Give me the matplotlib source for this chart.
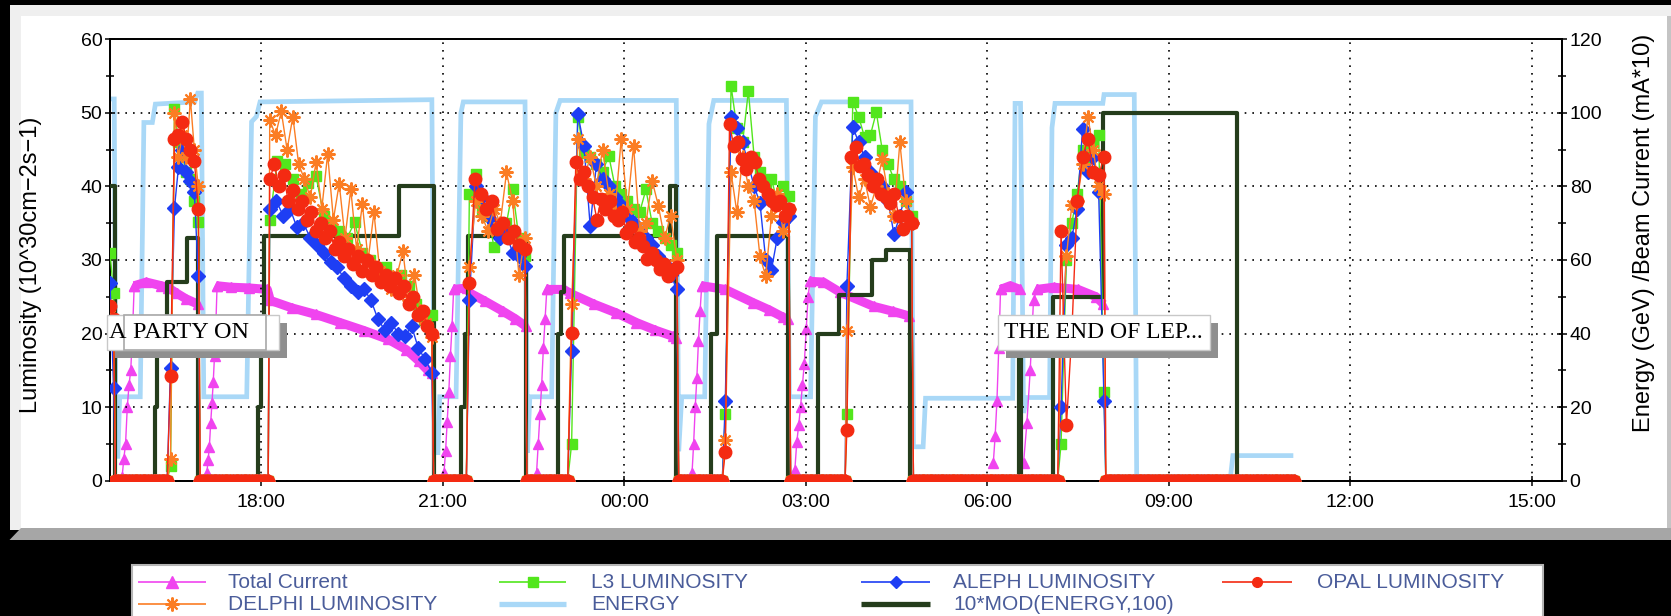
import numpy as np
import matplotlib
matplotlib.use("Agg")
import matplotlib.pyplot as plt
from matplotlib.lines import Line2D
from matplotlib.patches import Rectangle, Polygon

W, H, DPI = 1671, 616, 100
plt.rcParams['font.family'] = ['Liberation Sans', 'DejaVu Sans']

# ---------------- time axis (hours counted from midnight of day one) ----------------
x_min, x_max = 15.5, 39.5
tick_hours = [18, 21, 24, 27, 30, 33, 36, 39]
tick_labels = ["18:00", "21:00", "00:00", "03:00", "06:00", "09:00", "12:00", "15:00"]

# ---------------- beam energy, GeV (right axis) ----------------
energy_t = [15.50, 15.57, 15.60, 15.63, 15.66, 16.00, 16.06, 16.20, 16.25, 16.90,
            16.95, 17.01, 17.05, 17.76, 17.84, 17.92, 17.98, 20.82, 20.86, 20.92,
            20.95, 21.22, 21.30, 21.34, 22.36, 22.40, 22.44, 22.80, 22.87, 22.94,
            24.86, 24.90, 24.95, 25.33, 25.40, 25.48, 26.68, 26.73, 27.08, 27.16,
            27.26, 28.74, 28.78, 28.94, 28.98, 30.42, 30.46, 30.55, 30.60, 30.65,
            31.03, 31.07, 31.12, 31.91, 31.93, 32.43, 32.47, 34.02, 34.06, 35.02]
energy_gev = [103.8, 103.8, 6.6, 6.6, 22.8, 22.8, 97.4, 97.4, 102.4, 103.0,
              105.4, 105.4, 22.8, 22.8, 97.6, 99.0, 103.0, 103.6, 7.6, 7.6,
              22.8, 22.8, 100.0, 103.0, 103.0, 7.6, 22.8, 22.8, 100.0, 103.4,
              103.4, 8.0, 22.8, 22.8, 97.0, 103.4, 103.4, 22.8, 22.8, 99.0,
              103.0, 103.0, 9.2, 9.2, 22.4, 22.4, 102.6, 102.6, 18.4, 22.6,
              22.6, 96.0, 102.6, 102.6, 105.0, 105.0, 1.0, 1.0, 6.8, 6.8]

# ---------------- 10*MOD(ENERGY,100), left axis, step changes ----------------
mod_t = [15.50, 15.59, 16.24, 16.27, 16.45, 16.78, 16.96, 17.95, 17.99, 18.04,
         20.28, 20.85, 21.30, 21.36, 21.42, 22.37, 22.90, 22.96, 23.01, 24.75,
         24.86, 25.44, 25.54, 26.70, 27.20, 27.55, 28.09, 28.32, 28.72, 30.52,
         30.56, 31.09, 31.91, 34.13]
mod_val = [40.0, 0.0, 10.0, 22.0, 27.0, 33.0, 0.0, 10.0, 22.0, 33.3,
           40.0, 0.0, 10.0, 20.0, 33.3, 0.0, 20.0, 25.6, 33.3, 40.0,
           0.0, 20.0, 33.3, 0.0, 20.0, 25.3, 30.0, 31.3, 0.0, 20.0,
           0.0, 25.0, 50.0, 0.0]

# ---------------- total beam current, mA*10 (right axis) ----------------
current_ramp_spans = [(15.70, 15.90), (17.10, 17.27), (21.02, 21.18), (22.55, 22.72),
                      (25.12, 25.28), (26.82, 27.07), (30.10, 30.22), (30.60, 30.82)]
current_ramps = [
    [1, 6, 10, 20, 26, 30, 40, 53],
    [2, 5.6, 9.2, 15.6, 21, 26.8, 34, 42, 53],
    [2, 8, 16, 24, 34, 42, 52],
    [2, 10, 18, 26, 36, 44, 52],
    [2, 10, 20, 28, 38, 46, 53],
    [3, 10.4, 15, 20, 26, 31.8, 41.2, 50, 54.2],
    [4.8, 12, 21.6, 36, 52],
    [4.8, 15.6, 30, 49.2, 52],
]
current_coast_t = [
    [15.90, 16.10, 16.35, 16.46, 16.60, 16.75, 16.95],
    [17.27, 17.50, 17.80, 18.10, 18.15, 18.50, 18.90, 19.30, 19.70, 20.10, 20.40, 20.60, 20.75, 20.82],
    [21.18, 21.40, 21.45, 21.70, 22.00, 22.20, 22.37],
    [22.72, 23.00, 23.10, 23.50, 23.87, 24.20, 24.50, 24.81, 24.86],
    [25.28, 25.67, 26.13, 26.40, 26.63, 26.70],
    [27.07, 27.29, 27.57, 28.12, 28.45, 28.70],
    [30.22, 30.38, 30.54],
    [30.82, 31.10, 31.50, 31.80, 31.92],
]
current_coast = [
    [53, 54, 53, 52.5, 51, 49.5, 48],
    [53, 52.6, 52.4, 52, 49, 47, 45.2, 43, 40.8, 38.4, 35.6, 32.6, 30, 29.4],
    [52, 52.4, 51, 48.8, 46, 44, 42],
    [52, 52, 51, 48, 45.6, 43, 41, 39.2, 38.8],
    [53, 52, 48.4, 46.4, 44.4, 44],
    [54.2, 54, 51.2, 47.4, 46, 44.8],
    [52, 53, 52],
    [52, 52.6, 52, 50, 48],
]

# ---------------- luminosities, 10^30 cm-2 s-1 (left axis) ----------------
fill_spans = [(15.50, 15.56), (16.50, 16.96), (18.14, 20.82), (21.44, 22.36),
              (23.13, 24.87), (25.67, 26.72), (27.68, 28.75), (31.22, 31.93)]
zero_spans = [(15.59, 16.48), (16.99, 18.12), (20.85, 21.42), (22.39, 23.11),
              (24.90, 25.65), (26.75, 27.66), (28.78, 31.20), (31.96, 35.08)]
zero_step = 0.045

l3_lumi = [
    [31.0, 25.5],
    [2.0, 50.5, 46.0, 44.0, 42.0, 41.0, 38.0, 35.1],
    [35.5, 43.5, 43.0, 41.0, 39.0, 40.5, 41.4, 36.0, 35.0, 34.0, 33.0, 35.1, 31.0,
     30.0, 28.4, 29.0, 27.5, 28.0, 26.5, 24.0, 21.9, 22.5],
    [39.0, 41.7, 37.0, 36.0, 31.7, 34.0, 35.0, 39.6, 33.0, 30.5],
    [5.0, 49.5, 44.5, 44.0, 43.0, 42.0, 44.2, 40.0, 39.0, 38.0, 37.0, 36.5, 39.6,
     35.0, 34.0, 33.0, 32.1, 31.0],
    [9.0, 53.7, 48.0, 46.0, 53.0, 44.0, 42.0, 40.0, 41.0, 38.0, 40.0, 38.7],
    [9.0, 51.5, 49.5, 46.7, 47.0, 50.1, 45.0, 43.0, 41.0, 40.0, 38.0, 36.0],
    [5.0, 30.0, 35.0, 39.0, 45.0, 44.0, 46.0, 47.0, 12.0],
]
aleph_lumi = [
    [26.9, 12.6],
    [15.3, 37.1, 42.6, 45.0, 42.0, 40.8, 39.2, 27.8],
    [36.9, 38.0, 36.0, 37.0, 34.5, 35.0, 33.0, 32.0, 31.0, 29.7, 29.0, 27.5, 26.5,
     25.6, 26.0, 24.5, 22.0, 20.5, 21.5, 20.0, 19.6, 21.0, 18.0, 16.5, 14.7],
    [24.6, 40.1, 38.5, 36.0, 35.0, 33.0, 33.5, 31.0, 30.5, 29.2],
    [17.6, 49.9, 45.5, 34.6, 43.0, 41.0, 40.0, 38.5, 37.5, 36.0, 35.0, 34.0, 33.0,
     32.0, 30.5, 29.5, 28.0, 26.0],
    [10.8, 49.5, 48.0, 46.0, 43.0, 40.0, 37.8, 30.0, 28.7, 33.0, 35.1, 36.0],
    [26.5, 48.1, 46.0, 44.0, 42.0, 41.0, 40.0, 38.0, 33.5, 36.0, 39.2, 35.0],
    [10.0, 32.0, 33.0, 37.0, 47.8, 42.0, 44.0, 39.3, 10.8],
]
opal_lumi = [
    [23.7, 22.0],
    [14.2, 46.4, 47.0, 48.7, 46.5, 45.0, 43.5, 36.9],
    [41.0, 43.0, 40.0, 41.5, 38.0, 39.5, 37.0, 38.0, 35.5, 36.5, 34.0, 35.0, 33.0,
     34.0, 31.5, 32.5, 30.5, 31.5, 29.5, 30.5, 28.5, 30.0, 28.0, 29.0, 27.0, 28.0,
     26.5, 27.5, 25.5, 26.5, 24.0, 25.0, 22.5, 23.0, 21.0, 20.0],
    [26.9, 41.0, 39.0, 36.9, 38.0, 34.2, 35.0, 33.0, 34.0, 32.0, 31.5],
    [20.1, 43.3, 41.0, 42.0, 40.0, 38.5, 35.5, 38.3, 37.0, 38.0, 36.0, 35.5, 36.5,
     33.7, 34.5, 32.5, 33.0, 31.9, 30.1, 31.0, 30.0, 28.8, 29.5, 27.8, 28.7, 29.0],
    [3.9, 48.5, 45.5, 46.0, 43.7, 42.4, 44.0, 43.3, 41.0, 40.0, 39.0, 38.0, 37.5,
     38.0, 36.0, 37.0],
    [6.9, 44.0, 45.4, 42.8, 43.0, 41.5, 40.1, 41.0, 39.0, 38.5, 37.8, 39.0, 36.0,
     34.2, 36.0, 35.0],
    [34.0, 7.5, 20.0, 38.0, 44.0, 46.5, 42.0, 41.5, 44.0],
]
delphi_lumi = [
    [22.5, 21.0],
    [3.0, 50.0, 44.0, 47.0, 44.0, 51.9, 45.0, 40.0],
    [49.0, 47.0, 50.2, 45.0, 49.5, 43.0, 41.0, 38.5, 43.3, 37.0, 44.4, 35.5, 40.4,
     33.0, 39.6, 31.5, 37.6, 30.0, 36.5, 28.5, 27.0, 26.0, 28.0, 31.2, 24.5, 28.0,
     23.0, 21.5, 19.5],
    [29.0, 38.0, 36.0, 34.0, 37.0, 35.0, 41.9, 38.0, 28.0, 33.0],
    [24.0, 46.4, 41.0, 44.0, 40.0, 45.0, 39.0, 36.5, 46.4, 37.0, 45.5, 34.0, 35.0,
     40.8, 37.4, 33.0, 36.0, 30.0],
    [5.5, 41.9, 36.5, 44.0, 40.0, 38.0, 30.5, 27.8, 36.0, 39.0, 34.0, 37.0],
    [20.3, 42.7, 38.5, 41.0, 37.2, 40.0, 43.7, 39.0, 36.0, 46.0, 38.0, 35.0],
    [18.0, 30.5, 37.5, 38.0, 43.0, 49.5, 45.0, 40.0, 39.0],
]

# ---------------- colours ----------------
C_CURRENT = '#f044ef'
C_DELPHI = '#fb7d24'
C_L3 = '#52e61c'
C_ENERGY = '#a9d8f7'
C_ALEPH = '#1e3ef4'
C_MOD = '#253d1c'
C_OPAL = '#f42a12'
C_LEGTEXT = '#4a5c9a'

ASTERISK = (8, 2, 0)


def build_series(fill_vals):
    """Join the per-fill samples with the zero readings between fills."""
    ts, vs = [], []
    for (a, b), vals in zip(fill_spans, fill_vals):
        ts.append(np.linspace(a, b, len(vals)))
        vs.append(np.asarray(vals, float))
    for a, b in zero_spans:
        zt = np.arange(a, b, zero_step)
        ts.append(zt)
        vs.append(np.zeros_like(zt))
    t = np.concatenate(ts)
    v = np.concatenate(vs)
    order = np.argsort(t, kind='stable')
    return t[order], v[order]


fig = plt.figure(figsize=(W / DPI, H / DPI), dpi=DPI, facecolor='black')


def fx(px):
    return px / W


def fy(py):
    return 1 - py / H


def fig_rect(x0, y0, x1, y1, z, **kw):
    r = Rectangle((fx(x0), fy(y1)), fx(x1) - fx(x0), fy(y0) - fy(y1),
                  transform=fig.transFigure, zorder=z, **kw)
    fig.add_artist(r)
    return r


# window panel with its bevel
fig_rect(9.5, 5, W, 530, -3, facecolor='#efefef', edgecolor='none')
fig_rect(21, 16, 1667, 528, -2, facecolor='white', edgecolor='none')
fig_rect(1667, 16, W, 528, -2, facecolor='#c4c4c4', edgecolor='none')
fig.add_artist(Polygon([(fx(9.5), fy(540)), (fx(21), fy(528)), (fx(W), fy(528)), (fx(W), fy(540))],
                       closed=True, transform=fig.transFigure, facecolor='#a6a6a6',
                       edgecolor='none', zorder=-2))

# ---------------- axes ----------------
ax = fig.add_axes([110 / W, 1 - 480.6 / H, 1452 / W, 441.2 / H])
ax2 = ax.twinx()
ax.set_zorder(ax2.get_zorder() + 1)
ax.patch.set_visible(False)

ax.set_xlim(x_min, x_max)
ax.set_ylim(0, 60)
ax2.set_ylim(0, 120)

ax.set_xticks(tick_hours, tick_labels)
ax.set_yticks(np.arange(0, 61, 10))
ax.set_yticks(np.arange(5, 60, 10), minor=True)
ax2.set_yticks(np.arange(0, 121, 20))
ax2.set_yticks(np.arange(10, 120, 20), minor=True)

for a in (ax, ax2):
    for s in a.spines.values():
        s.set_linewidth(1.3)
        s.set_color('black')
ax.tick_params(axis='both', which='major', direction='inout', length=7, width=1.1,
               labelsize=14, colors='black')
ax.tick_params(axis='y', which='minor', direction='inout', length=6, width=1.1)
ax.tick_params(axis='y', pad=2)
ax.tick_params(axis='x', pad=6)
ax2.tick_params(axis='y', which='major', direction='inout', length=7, width=1.1,
                labelsize=14, pad=2)
ax2.tick_params(axis='y', which='minor', direction='inout', length=6, width=1.1)

ax.set_axisbelow(True)
ax.grid(True, which='major', color='black', linestyle=(0, (1, 3.6)), linewidth=1.2)

ax.set_ylabel("Luminosity (10^30cm\u22122s\u22121)", fontsize=17)
ax2.set_ylabel("Energy (GeV) /Beam Current (mA*10)", fontsize=17)
ax.yaxis.set_label_coords(-0.047, 0.49)
ax2.yaxis.set_label_coords(1.049, 0.561)

# ---------------- right-axis curves ----------------
ax2.plot(energy_t, energy_gev, color=C_ENERGY, lw=3.4, solid_joinstyle='miter', zorder=2)

cur_t, cur_v = [], []
for (a, b), ramp, ct, cv in zip(current_ramp_spans, current_ramps, current_coast_t, current_coast):
    cur_t += list(np.linspace(a, b, len(ramp))) + list(ct) + [np.nan]
    cur_v += list(ramp) + list(cv) + [np.nan]
    ax2.plot(ct, cv, color=C_CURRENT, lw=6.5, solid_capstyle='butt', zorder=3)
ax2.plot(cur_t, cur_v, color=C_CURRENT, lw=1.0, marker='^', ms=7, mec=C_CURRENT, zorder=3)

# ---------------- left-axis curves ----------------
ax.step(mod_t, mod_val, where='post', color=C_MOD, lw=3.0, zorder=3)

series = [
    (l3_lumi, C_L3, 's', 7, 4),
    (aleph_lumi, C_ALEPH, 'D', 7, 5),
    (delphi_lumi, C_DELPHI, ASTERISK, 10, 6),
    (opal_lumi, C_OPAL, 'o', 9, 7),
]
for vals, col, mk, ms, z in series:
    t, v = build_series(vals)
    kw = dict(color=col, lw=1.0, marker=mk, ms=ms, mec=col, mfc=col, zorder=z, clip_on=True)
    if mk is ASTERISK:
        kw['mew'] = 1.5
    ax.plot(t, v, **kw)

# ---------------- note boxes ----------------
SERIF = ['Liberation Serif', 'DejaVu Serif']
fig_rect(114.5, 323, 287, 358, 10, facecolor='#8f8f8f', edgecolor='none')
fig_rect(106.5, 315, 279, 350, 10.1, facecolor='white', edgecolor='#c8c8c8', lw=1)
fig_rect(124.5, 315, 266, 350, 10.2, facecolor='white', edgecolor='#a8a8a8', lw=1.2)
fig.text(fx(109), fy(333), "A", family=SERIF, fontsize=17.5, va='center', ha='left', zorder=11)
fig.text(fx(133), fy(333), "PARTY ON", family=SERIF, fontsize=17.5, va='center', ha='left', zorder=11)

fig_rect(1006, 323, 1218, 358, 10, facecolor='#8f8f8f', edgecolor='none')
fig_rect(998, 315, 1210, 350, 10.1, facecolor='white', edgecolor='#c8c8c8', lw=1)
fig.text(fx(1004), fy(333), "THE END OF LEP...", family=SERIF, fontsize=17, va='center',
         ha='left', zorder=11)

# ---------------- legend ----------------
fig_rect(132, 565, 1543, 630, 10, facecolor='white', edgecolor='#b5b5b5', lw=1.5)

legend_entries = [
    # (line start, line end, row y, text x, label, style)
    (138, 206, 582, 228, "Total Current", dict(color=C_CURRENT, lw=1.2, marker='^', ms=8)),
    (138, 206, 604, 228, "DELPHI LUMINOSITY", dict(color=C_DELPHI, lw=1.2, marker=ASTERISK, ms=10, mew=1.5)),
    (499, 566, 582, 591, "L3 LUMINOSITY", dict(color=C_L3, lw=1.2, marker='s', ms=7)),
    (499, 566, 604, 591, "ENERGY", dict(color=C_ENERGY, lw=3.8)),
    (861, 930, 582, 953, "ALEPH LUMINOSITY", dict(color=C_ALEPH, lw=1.2, marker='D', ms=6)),
    (861, 930, 604, 953, "10*MOD(ENERGY,100)", dict(color=C_MOD, lw=3.8)),
    (1222, 1292, 582, 1317, "OPAL LUMINOSITY", dict(color=C_OPAL, lw=1.2, marker='o', ms=7)),
]
for x0, x1, y, tx, label, style in legend_entries:
    style = dict(style)
    marker = style.pop('marker', None)
    ms = style.pop('ms', None)
    mew = style.pop('mew', 1.0)
    fig.add_artist(Line2D([fx(x0), fx(x1)], [fy(y), fy(y)], transform=fig.transFigure,
                          zorder=11, solid_capstyle='butt', **style))
    if marker is not None:
        fig.add_artist(Line2D([fx((x0 + x1) / 2)], [fy(y)], transform=fig.transFigure,
                              marker=marker, ms=ms, mew=mew, color=style['color'],
                              mfc=style['color'], mec=style['color'], lw=0, zorder=12))
    fig.text(fx(tx), fy(y), label, color=C_LEGTEXT, fontsize=15, va='center', ha='left', zorder=12)

fig.savefig("out.png", dpi=DPI, facecolor=fig.get_facecolor())
